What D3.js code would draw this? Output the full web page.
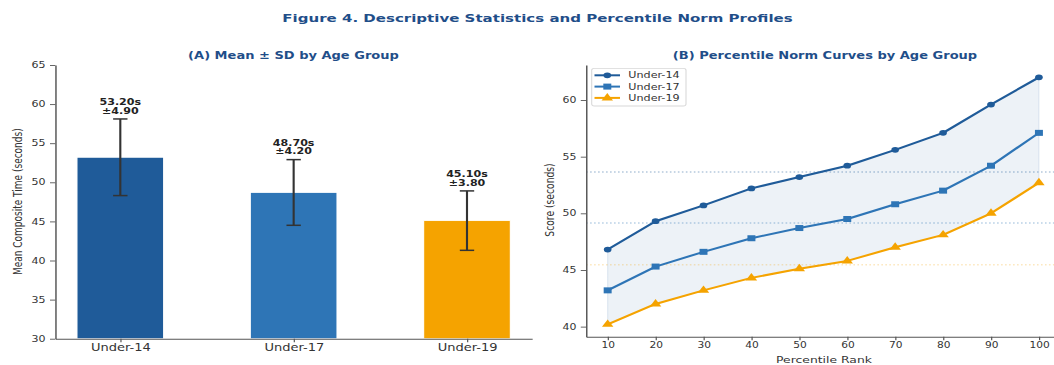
<!DOCTYPE html>
<html><head><meta charset="utf-8">
<script src="https://cdn.jsdelivr.net/npm/d3@7"></script>
<style>body{margin:0;background:#fff;} svg{display:block;font-family:"DejaVu Sans",sans-serif;}</style>
</head><body><svg id="c"></svg>
<script>
// ---- data ----
const groups = ["Under-14", "Under-17", "Under-19"];
const means = [53.2, 48.7, 45.1];
const sds = [4.9, 4.2, 3.8];
const barYTicks = [30, 35, 40, 45, 50, 55, 60, 65];
const percentiles = [10, 20, 30, 40, 50, 60, 70, 80, 90, 100];
const u14 = [46.8, 49.3, 50.7, 52.2, 53.2, 54.2, 55.6, 57.1, 59.6, 62.0];
const u17 = [43.2, 45.3, 46.6, 47.8, 48.7, 49.5, 50.8, 52.0, 54.2, 57.1];
const u19 = [40.2, 42.0, 43.2, 44.3, 45.1, 45.8, 47.0, 48.1, 50.0, 52.7];
const refLines = [53.65, 49.15, 45.45];
const normYTicks = [40, 45, 50, 55, 60];
const series = [u14, u17, u19];
const colors = ["#1f5b99", "#2e75b6", "#f5a300"];

// ---- layout (screen is stretched horizontally by K) ----
const K = 1.33, SW = 1054, SH = 365, W = SW / K;
const X = v => v / K;
const svg = d3.select("#c").attr("width", SW).attr("height", SH)
  .attr("viewBox", `0 0 ${W} ${SH}`).attr("preserveAspectRatio", "none");
const txt = "#333", spine = "#555", titleC = "#1f4e89";

svg.append("text").attr("x", X(537.5)).attr("y", 22.5).attr("text-anchor", "middle")
  .attr("font-size", 11.3).attr("font-weight", "bold").attr("fill", titleC)
  .text("Figure 4. Descriptive Statistics and Percentile Norm Profiles");

function styleAxis(g, fs) {
  g.select(".domain").attr("stroke", spine).attr("stroke-width", 1.1);
  g.selectAll(".tick line").attr("stroke", spine).attr("stroke-width", 0.9);
  g.selectAll(".tick text").attr("fill", txt).attr("font-size", fs).attr("font-family", "DejaVu Sans");
}

// ---- Panel A ----
const xA = d3.scaleLinear().domain([-0.375, 2.375]).range([X(55.3), X(532)]);
const yA = d3.scaleLinear().domain([30, 65]).range([338.7, 65]);
const gA = svg.append("g");

gA.selectAll("rect.bar").data(groups).join("rect").attr("class", "bar")
  .attr("x", (d, i) => xA(i - 0.25)).attr("width", xA(0.25) - xA(-0.25))
  .attr("y", (d, i) => yA(means[i])).attr("height", (d, i) => yA(30) - yA(means[i]))
  .attr("fill", (d, i) => colors[i]).attr("stroke", "#fff").attr("stroke-width", 0.8);

groups.forEach((g, i) => {
  const cx = xA(i), top = yA(means[i] + sds[i]), bot = yA(means[i] - sds[i]);
  gA.append("line").attr("x1", cx).attr("x2", cx).attr("y1", top).attr("y2", bot)
    .attr("stroke", "#333").attr("stroke-width", 1.6);
  [top, bot].forEach(yy => gA.append("line").attr("x1", cx - 5.4).attr("x2", cx + 5.4)
    .attr("y1", yy).attr("y2", yy).attr("stroke", "#333").attr("stroke-width", 1.5));
  const t = gA.append("text").attr("text-anchor", "middle").attr("font-size", 8.35)
    .attr("font-weight", "bold").attr("fill", "#222");
  t.append("tspan").attr("x", cx).attr("y", top - 14).text(means[i].toFixed(2) + "s");
  t.append("tspan").attr("x", cx).attr("y", top - 5.2).text("±" + sds[i].toFixed(2));
});

const axAy = gA.append("g").attr("transform", `translate(${xA(-0.375)},0)`)
  .call(d3.axisLeft(yA).tickValues(barYTicks).tickSize(4).tickSizeOuter(0).tickPadding(3.3));
styleAxis(axAy, 8.3);
const axAx = gA.append("g").attr("transform", `translate(0,${yA(30)})`)
  .call(d3.axisBottom(xA).tickValues([0, 1, 2]).tickFormat(i => groups[i]).tickSize(3.5).tickSizeOuter(0).tickPadding(2.2));
styleAxis(axAx, 9.8);

gA.append("text").attr("transform", `translate(${X(21.5)},201.7) rotate(-90)`)
  .attr("text-anchor", "middle").attr("font-size", 9).attr("fill", txt)
  .text("Mean Composite Time (seconds)");
gA.append("text").attr("x", X(293.5)).attr("y", 59.5).attr("text-anchor", "middle")
  .attr("font-size", 9.8).attr("font-weight", "bold").attr("fill", titleC)
  .text("(A) Mean ± SD by Age Group");

// ---- Panel B ----
const xB = d3.scaleLinear().domain([5.5, 104.5]).range([X(586.1), X(1060.5)]);
const yB = d3.scaleLinear().domain([39.11, 63.09]).range([336.7, 65]);
const gB = svg.append("g");

const area = d3.area().x((d, i) => xB(percentiles[i])).y0((d, i) => yB(u19[i])).y1(d => yB(d));
gB.append("path").datum(u14).attr("d", area).attr("fill", "#1f5b99").attr("fill-opacity", 0.08)
  .attr("stroke", "#1f5b99").attr("stroke-opacity", 0.12).attr("stroke-width", 0.8);

refLines.forEach((v, i) => gB.append("line").attr("x1", xB(5.5)).attr("x2", xB(104.5))
  .attr("y1", yB(v)).attr("y2", yB(v)).attr("stroke", colors[i]).attr("stroke-opacity", 0.5)
  .attr("stroke-width", 0.9).attr("stroke-dasharray", "1.2,1.8"));

const line = d3.line().x((d, i) => xB(percentiles[i])).y(d => yB(d));
const symbols = [d3.symbolCircle, d3.symbolSquare, d3.symbolTriangle];
const symSize = [26, 36, 32];
series.forEach((s, k) => {
  gB.append("path").datum(s).attr("d", line).attr("fill", "none")
    .attr("stroke", colors[k]).attr("stroke-width", 2).attr("stroke-linejoin", "round");
  gB.selectAll(null).data(s).join("path")
    .attr("transform", (d, i) => `translate(${xB(percentiles[i])},${yB(d)})`)
    .attr("d", d3.symbol(symbols[k], symSize[k])).attr("fill", colors[k]);
});

const axBy = gB.append("g").attr("transform", `translate(${xB(5.5)},0)`)
  .call(d3.axisLeft(yB).tickValues(normYTicks).tickSize(4).tickSizeOuter(0).tickPadding(3.3));
styleAxis(axBy, 8.2);
const axBx = gB.append("g").attr("transform", `translate(0,${yB(39.11)})`)
  .call(d3.axisBottom(xB).tickValues(percentiles).tickSize(3.5).tickSizeOuter(0).tickPadding(2.4));
styleAxis(axBx, 8);

gB.append("text").attr("transform", `translate(${X(554)},200) rotate(-90)`)
  .attr("text-anchor", "middle").attr("font-size", 9.2).attr("fill", txt).text("Score (seconds)");
gB.append("text").attr("x", X(824)).attr("y", 363).attr("text-anchor", "middle")
  .attr("font-size", 9.3).attr("fill", txt).text("Percentile Rank");
gB.append("text").attr("x", X(825)).attr("y", 59.5).attr("text-anchor", "middle")
  .attr("font-size", 9.8).attr("font-weight", "bold").attr("fill", titleC)
  .text("(B) Percentile Norm Curves by Age Group");

// legend
const lg = gB.append("g");
lg.append("rect").attr("x", X(591.7)).attr("y", 68.3).attr("width", X(686) - X(591.7)).attr("height", 37.7)
  .attr("rx", 2).attr("fill", "#fff").attr("fill-opacity", 0.8).attr("stroke", "#d8d8d8").attr("stroke-width", 0.8);
groups.forEach((g, k) => {
  const yy = 75.3 + k * 11.3;
  lg.append("line").attr("x1", X(594.5)).attr("x2", X(620)).attr("y1", yy).attr("y2", yy)
    .attr("stroke", colors[k]).attr("stroke-width", 2);
  lg.append("path").attr("transform", `translate(${X(607.3)},${yy})`)
    .attr("d", d3.symbol(symbols[k], symSize[k])).attr("fill", colors[k]);
  lg.append("text").attr("x", X(628.3)).attr("y", yy).attr("dy", "0.35em")
    .attr("font-size", 8.4).attr("fill", txt).text(g);
});
</script></body></html>
